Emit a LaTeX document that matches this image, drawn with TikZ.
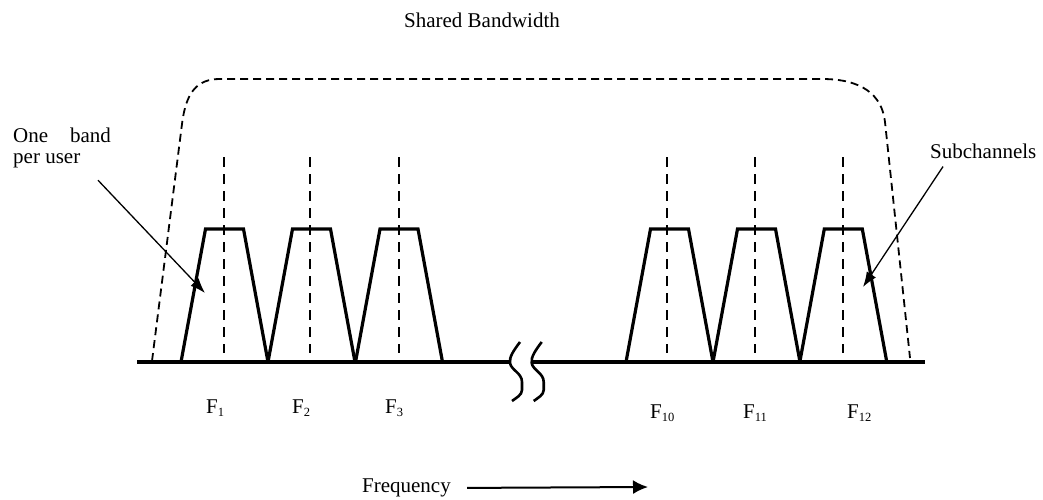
\documentclass[tikz,border=0pt]{standalone}
\usepackage{fontspec}
\setmainfont{Liberation Serif}
\usetikzlibrary{arrows.meta,calc}
\newcommand{\freqlab}[1]{F\raisebox{-3.5pt}{\fontsize{12.5}{12.5}\selectfont #1}}
\begin{document}
\begin{tikzpicture}[x=1pt,y=-1pt,
  every node/.style={font=\fontsize{21}{21}\selectfont,inner sep=0pt},
  axis/.style={line width=3.2pt},
  band/.style={line width=3.2pt,line join=miter},
  carrier/.style={line width=2pt,dash pattern=on 10pt off 7pt},
  envelope/.style={line width=1.8pt,dash pattern=on 8pt off 5pt},
  brk/.style={line width=2.6pt},
  pointer/.style={line width=1.3pt,-{Latex[length=15pt,width=11pt]}}]
\useasboundingbox (0,0) rectangle (1043,500);
% texts
\node (shared) at (482,20) {Shared Bandwidth};
\node[anchor=west,align=left] (user) at (13,148) {One\hspace{22pt}band\\per user};
\node[anchor=west] (sub) at (930,151) {Subchannels};
\node[anchor=east] (freq) at (451,488) {Frequency};
\foreach \n/\x/\y in {1/206/408,2/292/408,3/385/408,10/650/413,11/743/413,12/847/413}
  \node[anchor=west] (f\n) at (\x,\y) {\freqlab{\n}};
% envelope of the shared band
\draw[envelope] (152,361) -- (182,124) .. controls (186,92) and (197,79) .. (220,79)
  -- (822,79) .. controls (862,79) and (882,95) .. (885,122) -- (910,358);
% subchannels
\foreach \c in {224.5,311.5,399,669.5,756.5,843.3}
  \draw[band] ({\c-43.5},362) -- ({\c-19},229) -- ({\c+19},229) -- ({\c+43.5},362);
\foreach \c in {224.3,310,399,667,755,843}
  \draw[carrier] (\c,157) -- (\c,353);
% frequency axis with break
\draw[axis] (137,362) -- (510,362);
\draw[axis] (532,362) -- (925,362);
\foreach \d in {0,21.7}
  \draw[brk,xshift=\d] (520,342) .. controls (514,350) and (509,357) .. (510,363)
    .. controls (511,370) and (522,373) .. (522,382) -- (522,390)
    .. controls (522,395) and (516,398) .. (512,401);
% pointers
\coordinate (userTip) at (205,293);
\coordinate (subTip) at (863,287);
\coordinate (freqEnd) at (648,487);
\draw[pointer] ($(user.south west)+(85,12)$) -- (userTip);
\draw[pointer] ($(sub.south west)+(13,8)$) -- (subTip);
\draw[line width=2pt,-{Latex[length=15pt,width=14pt]},shorten <=16pt] (freq.east) -- (freqEnd);
\end{tikzpicture}
\end{document}
